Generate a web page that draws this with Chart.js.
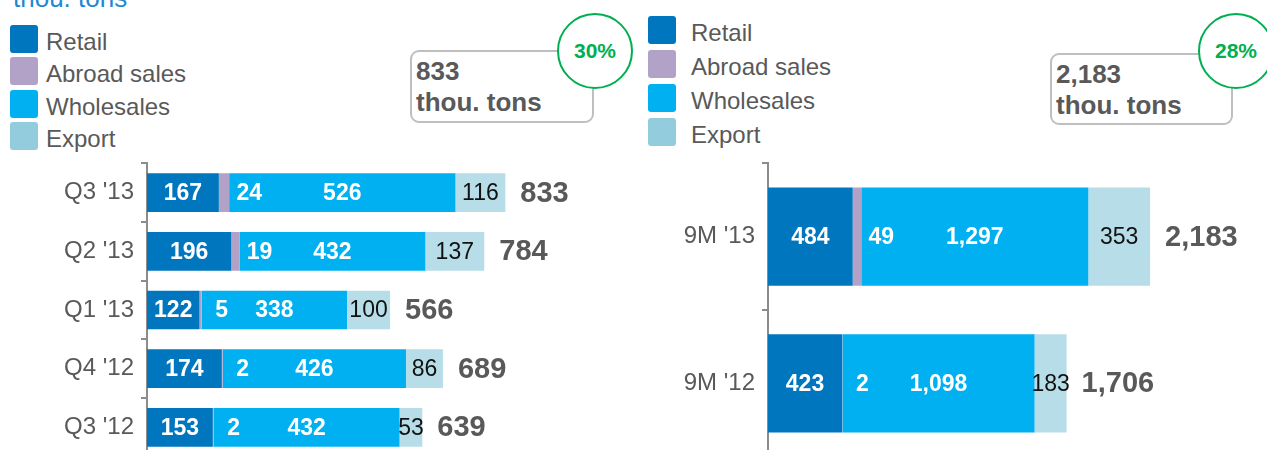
<!DOCTYPE html>
<html>
<head>
<meta charset="utf-8">
<script src="https://cdn.jsdelivr.net/npm/chart.js@4/dist/chart.umd.min.js"></script>
<style>
  html, body { margin: 0; padding: 0; }
  body { width: 1267px; height: 450px; overflow: hidden; position: relative; background: #fff;
         font-family: "Liberation Sans", Arial, sans-serif; color: #595959; }
  .title { position: absolute; left: 13px; top: -15px; font-size: 26px; line-height: 26px; color: #1E88D2; white-space: nowrap; }
  .sq { position: absolute; width: 28px; height: 28px; border-radius: 3px; }
  .lt { position: absolute; font-size: 24px; line-height: 28px; white-space: nowrap; }
  .box { position: absolute; box-sizing: border-box; border: 2px solid #BFBFBF; border-radius: 9px;
         font-weight: bold; font-size: 26px; line-height: 31px; padding: 4px 0 0 4px; white-space: nowrap; }
  .ring { position: absolute; box-sizing: border-box; width: 76px; height: 76px; border: 2px solid #00B050;
          border-radius: 50%; background: #fff; color: #00B050; font-weight: bold; font-size: 21px;
          display: flex; align-items: center; justify-content: center; }
  canvas { position: absolute; }
</style>
</head>
<body>
<div class="title">thou. tons</div>
<div id="legLeft"></div>
<div id="legRight"></div>

<div class="box" style="left:410px;top:50px;width:184px;height:73px;">833<br>thou. tons</div>
<div class="ring" style="left:557px;top:13px;">30%</div>
<div class="box" style="left:1050px;top:53px;width:183px;height:72px;">2,183<br>thou. tons</div>
<div class="ring" style="left:1198px;top:13px;">28%</div>

<canvas id="chartLeft" width="640" height="336" style="left:0;top:142px;"></canvas>
<canvas id="chartRight" width="627" height="336" style="left:640px;top:142px;"></canvas>

<script>
// legend
const seriesNames = ['Retail', 'Abroad sales', 'Wholesales', 'Export'];
const barColors = ['#0076BF', '#B3A2C7', '#00B0F0', '#B7DEE8'];
const legendColors = ['#0076BF', '#B3A2C7', '#00B0F0', '#93CDDD'];

// quarterly (left)
const quarters = ["Q3 '13", "Q2 '13", "Q1 '13", "Q4 '12", "Q3 '12"];
const qRetail = [167, 196, 122, 174, 153];
const qAbroad = [24, 19, 5, 2, 2];
const qWholesale = [526, 432, 338, 426, 432];
const qExport = [116, 137, 100, 86, 53];
const qTotals = [833, 784, 566, 689, 639];

// nine months (right)
const periods = ["9M '13", "9M '12"];
const nRetail = [484, 423];
const nAbroad = [49, 2];
const nWholesale = [1297, 1098];
const nExport = [353, 183];
const nTotals = [2183, 1706];

const FONT = '"Liberation Sans", Arial, sans-serif';

function buildLegend(id, left, top, pitch, textLeft) {
    const el = document.getElementById(id);
    seriesNames.forEach((name, i) => {
        const sq = document.createElement('div');
        sq.className = 'sq';
        sq.style.left = left + 'px';
        sq.style.top = (top + i * pitch) + 'px';
        sq.style.background = legendColors[i];
        el.appendChild(sq);
        const t = document.createElement('div');
        t.className = 'lt';
        t.style.left = textLeft + 'px';
        t.style.top = (top + i * pitch + 3) + 'px';
        t.textContent = name;
        el.appendChild(t);
    });
}
buildLegend('legLeft', 10, 25, 32.3, 46);
buildLegend('legRight', 648, 16, 34, 691);

// draws the value labels and the totals
const barLabels = {
    id: 'barLabels',
    afterDatasetsDraw(chart, args, opts) {
        const ctx = chart.ctx;
        ctx.save();
        ctx.textBaseline = 'middle';
        chart.data.datasets.forEach((ds, i) => {
            chart.getDatasetMeta(i).data.forEach((bar, j) => {
                const txt = ds.data[j].toLocaleString('en-US');
                let x = (bar.base + bar.x) / 2;
                if (i === 1) x = bar.x + 20;
                ctx.textAlign = 'center';
                if (i === 3) {
                    ctx.font = '23px ' + FONT;
                    ctx.fillStyle = '#111';
                } else {
                    ctx.font = 'bold 23px ' + FONT;
                    ctx.fillStyle = '#fff';
                }
                ctx.fillText(txt, x, bar.y + 1);
            });
        });
        const last = chart.getDatasetMeta(chart.data.datasets.length - 1);
        ctx.font = 'bold 29px ' + FONT;
        ctx.fillStyle = '#595959';
        ctx.textAlign = 'left';
        last.data.forEach((bar, j) => {
            ctx.fillText(opts.totals[j].toLocaleString('en-US'), bar.x + 15, bar.y + 1);
        });
        ctx.restore();
    }
};

function makeChart(id, labels, series, totals, axisWidth, xMax, catPct) {
    return new Chart(document.getElementById(id), {
        type: 'bar',
        data: {
            labels: labels,
            datasets: series.map((d, i) => ({
                label: seriesNames[i],
                data: d,
                backgroundColor: barColors[i],
                borderWidth: 0,
                barPercentage: 1,
                categoryPercentage: catPct
            }))
        },
        options: {
            indexAxis: 'y',
            responsive: false,
            animation: false,
            layout: { padding: 0 },
            plugins: {
                legend: { display: false },
                tooltip: { enabled: false },
                barLabels: { totals: totals }
            },
            scales: {
                x: { stacked: true, display: false, min: 0, max: xMax },
                y: {
                    stacked: true,
                    afterFit: (scale) => { scale.width = axisWidth; },
                    grid: { drawOnChartArea: false, tickLength: 6, color: '#8C8C8C', lineWidth: 2 },
                    border: { color: '#8C8C8C', width: 2 },
                    ticks: { color: '#595959', font: { family: FONT, size: 24 }, padding: 7 }
                }
            }
        },
        plugins: [barLabels]
    });
}

makeChart('chartLeft', quarters, [qRetail, qAbroad, qWholesale, qExport], qTotals, 147, 1146, 0.66);
makeChart('chartRight', periods, [nRetail, nAbroad, nWholesale, nExport], nTotals, 128, 2851, 0.67);
</script>
</body>
</html>
